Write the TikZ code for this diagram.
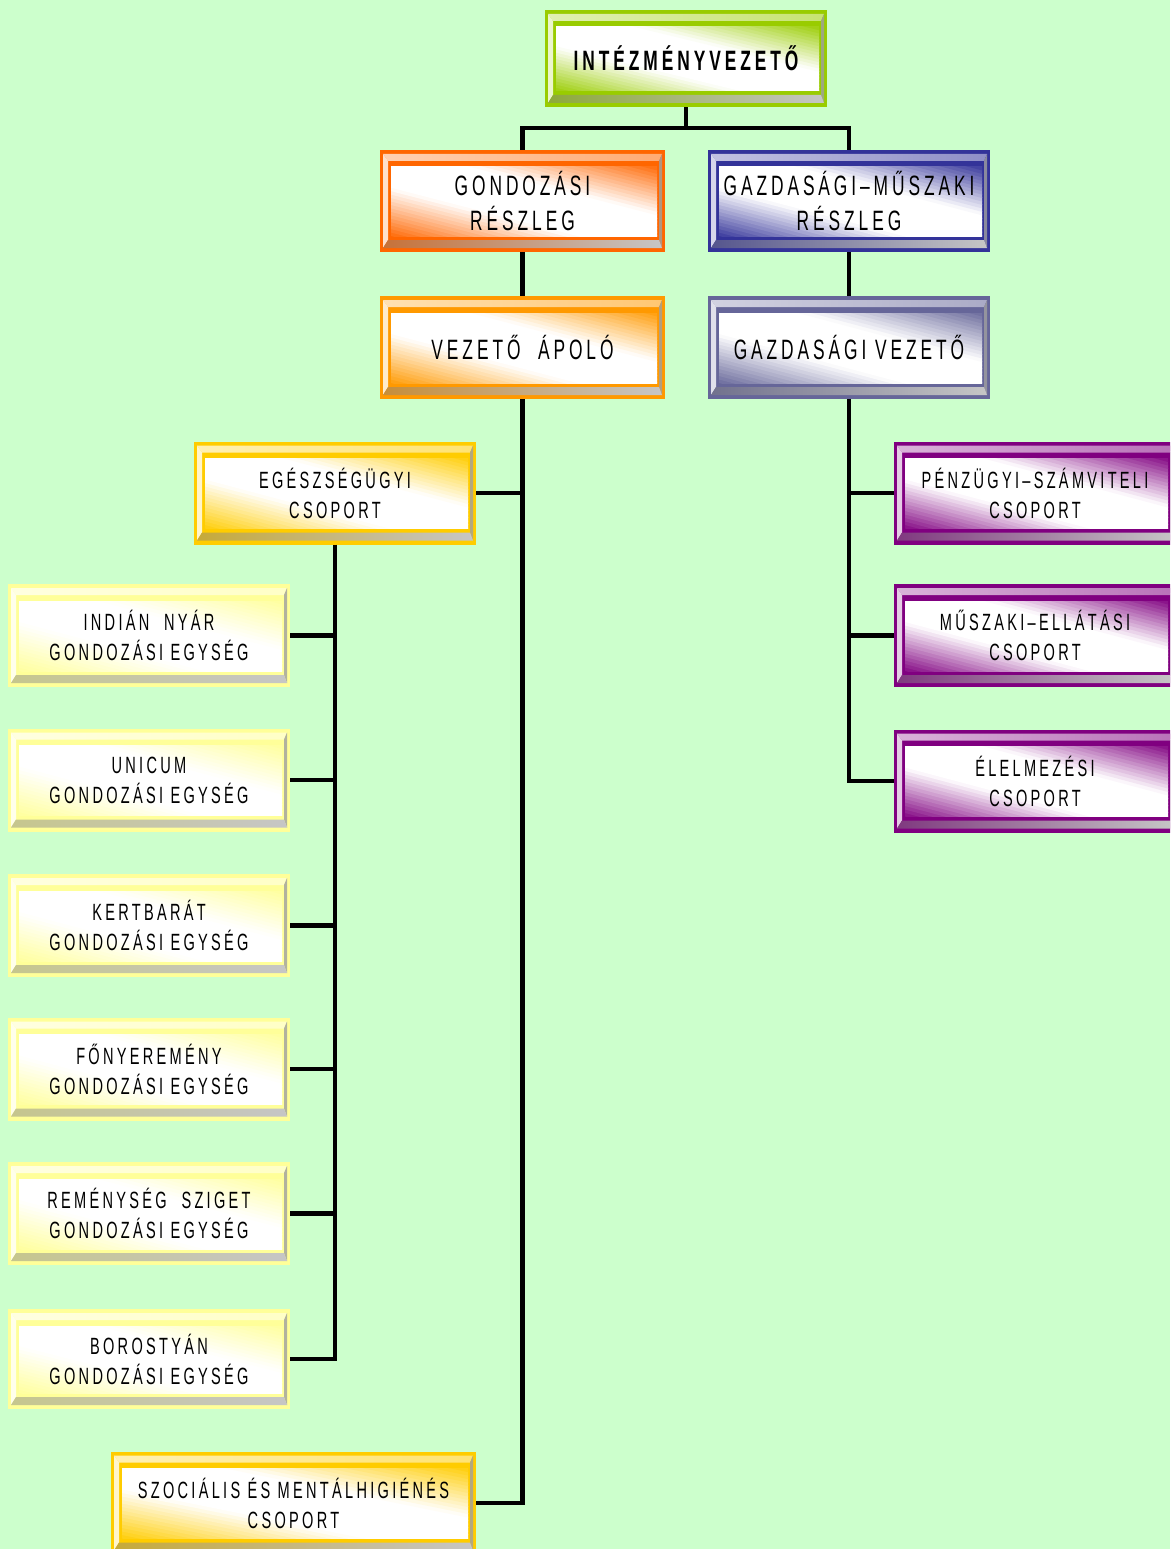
\documentclass[tikz,border=0pt]{standalone}
\usepackage{fontspec}
\setmainfont{Liberation Sans}[FakeStretch=0.62,LetterSpace=14]
\usetikzlibrary{calc}
\definecolor{bg}{HTML}{CCFFCC}
\definecolor{cgreen}{HTML}{99CC00}
\definecolor{corange}{HTML}{FF6600}
\definecolor{cblue}{HTML}{333399}
\definecolor{camber}{HTML}{FF9900}
\definecolor{cslate}{HTML}{666699}
\definecolor{cgold}{HTML}{FFCC00}
\definecolor{cyel}{HTML}{FFFF99}
\definecolor{cpurp}{HTML}{800080}
\newdimen\bevw \newdimen\bevh
\newcommand\bigf{\fontsize{28}{35}\selectfont}
\newcommand\smf{\fontsize{23.5}{30}\selectfont}
\newcommand\bevdraw[1]{%
 \path (path picture bounding box.south west) coordinate (pA)
       (path picture bounding box.north east) coordinate (pB)
       ($(pA)+(11,16)$) coordinate (fA) ($(pB)+(-8,-17)$) coordinate (fB)
       ($(fA)!0.5!(fB)$) coordinate (pC);
 \pgfextractx{\bevw}{\pgfpointdiff{\pgfpointanchor{fA}{center}}{\pgfpointanchor{fB}{center}}}%
 \pgfextracty{\bevh}{\pgfpointdiff{\pgfpointanchor{fA}{center}}{\pgfpointanchor{fB}{center}}}%
 \pgfmathsetmacro\fw{\bevw}%
 \pgfmathsetmacro\fh{\bevh}%
 \pgfmathsetmacro\fang{atan2(\fw,\fh)}%
 \pgfmathsetmacro\fangp{\fang+90}%
 \pgfmathsetmacro\fangm{\fang-90}%
 \pgfmathsetmacro\fT{\fw/veclen(\fw,\fh)*\fh}%
 % outer / inner bevel corners
 \path ($(pA|-pB)+(3,-4)$) coordinate (TLo) ($(pB)+(-3,-4)$) coordinate (TRo)
       ($(pB|-pA)+(-3,4)$) coordinate (BRo) ($(pA)+(3,4)$) coordinate (BLo)
       ($(pA|-pB)+(8,-11)$) coordinate (TLi) ($(pB)+(-6,-11)$) coordinate (TRi)
       ($(pB|-pA)+(-6,12)$) coordinate (BRi) ($(pA)+(8,12)$) coordinate (BLi);
 \shade[left color=#1!30!white, right color=#1!55!white] (TLo) -- (TRo) -- (TRi) -- (TLi) -- cycle;
 \fill[#1!20!white] (BLo) -- (TLo) -- (TLi) -- (BLi) -- cycle;
 \fill[#1!25!gray!80!white] (BRo) -- (TRo) -- (TRi) -- (BRi) -- cycle;
 \shade[left color=#1!55!gray, right color=gray!45] (BLo) -- (BRo) -- (BRi) -- (BLi) -- cycle;
 \begin{scope}
  \clip (fA) rectangle (fB);
  \foreach \k in {0,...,39}{%
   \pgfmathsetmacro\ta{-\fT+\k*\fT/20}%
   \pgfmathsetmacro\tb{\ta+\fT/20+0.8}%
   \pgfmathsetmacro\s{abs(\ta+\fT/40)/\fT}%
   \pgfmathsetmacro\p{\s<0.3 ? 0 : 95*(\s-0.3)/0.7}%
   \fill[#1!\p!white] ($(pC)+(\fang:\ta)+(\fangp:250)$) -- ($(pC)+(\fang:\tb)+(\fangp:250)$)
      -- ($(pC)+(\fang:\tb)+(\fangm:250)$) -- ($(pC)+(\fang:\ta)+(\fangm:250)$) -- cycle;
  }
 \end{scope}
}
\tikzset{
 bev/.style={draw=none, fill=#1, minimum width=282pt, minimum height=103pt,
   inner sep=0pt, align=center, text=black, path picture={\bevdraw{#1}}},
 big/.style={font=\bigf},
 sm/.style={font=\smf},
 conn/.style={draw=black, line width=4.5pt, line join=miter},
}
\begin{document}
\begin{tikzpicture}[x=1pt,y=1pt]
\clip (0,0) rectangle (1170,-1549);
\fill[bg] (0,0) rectangle (1170,-1549);
% level 1
\node[bev=cgreen, minimum height=97pt, font=\bigf\bfseries] (top) at (686,-58.5) {INTÉZMÉNYVEZETŐ};
% level 2
\node[bev=corange, minimum width=285pt, minimum height=102pt, big] (gond) at (522.5,-201) {GONDOZÁSI\\RÉSZLEG};
\node[bev=cblue, minimum height=102pt, big] (gazd) at (849,-201) {GAZDASÁGI–MŰSZAKI\\RÉSZLEG};
% level 3
\node[bev=camber, minimum width=285pt, big] (vap) at (522.5,-347.5) {VEZETŐ\ \ ÁPOLÓ};
\node[bev=cslate, big] (gv) at (849,-347.5) {GAZDASÁGI VEZETŐ};
% groups
\node[bev=cgold, sm] (egesz) at (335,-493) {EGÉSZSÉGÜGYI\\CSOPORT};
\node[bev=cpurp, sm] (pu) at (1035,-493) {PÉNZÜGYI–SZÁMVITELI\\CSOPORT};
\node[bev=cpurp, sm] (mu) at (1035,-635.5) {MŰSZAKI–ELLÁTÁSI\\CSOPORT};
\node[bev=cpurp, sm] (el) at (1035,-781) {ÉLELMEZÉSI\\CSOPORT};
% units
\node[bev=cyel, sm] (u1) at (149,-635.5) {INDIÁN\ \ NYÁR\\GONDOZÁSI EGYSÉG};
\node[bev=cyel, sm] (u2) at (149,-780) {UNICUM\\GONDOZÁSI EGYSÉG};
\node[bev=cyel, sm] (u3) at (149,-925.5) {KERTBARÁT\\GONDOZÁSI EGYSÉG};
\node[bev=cyel, sm] (u4) at (149,-1069) {FŐNYEREMÉNY\\GONDOZÁSI EGYSÉG};
\node[bev=cyel, sm] (u5) at (149,-1213.5) {REMÉNYSÉG\ \ SZIGET\\GONDOZÁSI EGYSÉG};
\node[bev=cyel, sm, minimum height=100pt] (u6) at (149,-1359) {BOROSTYÁN\\GONDOZÁSI EGYSÉG};
\node[bev=cgold, sm, minimum width=365pt] (szoc) at (293.5,-1503) {SZOCIÁLIS ÉS MENTÁLHIGIÉNÉS\\CSOPORT};
% connectors
\coordinate (jt) at (686,-128);
\draw[conn] (top.south) -- (jt);
\draw[conn] (gond.north) |- (jt) -| (gazd.north);
\draw[conn] (gond.south) -- (vap.north);
\draw[conn] (gazd.south) -- (gv.north);
\draw[conn] (vap.south) |- (szoc.east);
\draw[conn] (egesz.east) -- (egesz.east -| vap.south);
\draw[conn] (egesz.south) |- (u6.east);
\foreach \u in {u1,u2,u3,u4,u5} \draw[conn] (\u.east) -- (\u.east -| egesz.south);
\draw[conn] (gv.south) |- (el.west);
\foreach \u in {pu,mu} \draw[conn] (\u.west) -- (\u.west -| gv.south);
\end{tikzpicture}
\end{document}
